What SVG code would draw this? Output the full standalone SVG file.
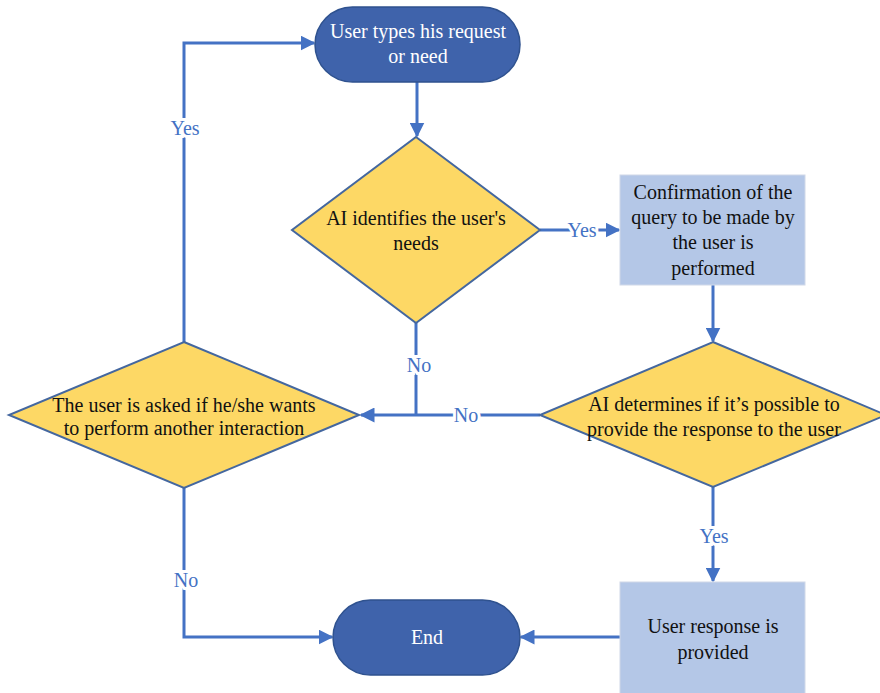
<svg xmlns="http://www.w3.org/2000/svg" width="880" height="693" viewBox="0 0 880 693">
  <style>
    .term { fill: #3f63ab; stroke: #2f528f; stroke-width: 1.5; }
    .dec { fill: #fdd865; stroke: #44679f; stroke-width: 2; }
    .proc { fill: #b4c7e7; stroke: #d0d8e8; stroke-width: 1; }
    .wire { fill: none; stroke: #4472c4; stroke-width: 3; }
  </style>
  <defs>
    <marker id="arrow" viewBox="0 0 10 10" refX="9" refY="5" markerWidth="5" markerHeight="5" orient="auto" markerUnits="strokeWidth">
      <path d="M0,0 L10,5 L0,10 z" fill="#4472c4"/>
    </marker>
  </defs>

  <rect width="880" height="693" fill="#ffffff"/>

  <!-- connectors and their Yes/No labels -->
  <g id="connectors">
    <path class="wire" d="M417,82 V136" marker-end="url(#arrow)"/>
    <path class="wire" d="M540,230 H619" marker-end="url(#arrow)"/>
    <path class="wire" d="M713,285 V341" marker-end="url(#arrow)"/>
    <path class="wire" d="M540,415 H361" marker-end="url(#arrow)"/>
    <path class="wire" d="M416,323 V415"/>
    <path class="wire" d="M184,342 V43 H314" marker-end="url(#arrow)"/>
    <path class="wire" d="M184,488 V637 H332" marker-end="url(#arrow)"/>
    <path class="wire" d="M713,487 V581" marker-end="url(#arrow)"/>
    <path class="wire" d="M620,637 H521" marker-end="url(#arrow)"/>
    <text style="font-family:'Liberation Serif',serif" font-size="20" text-anchor="middle" fill="#4472c4" stroke="#ffffff" stroke-width="6" paint-order="stroke" x="582" y="237">Yes</text>
    <text style="font-family:'Liberation Serif',serif" font-size="20" text-anchor="middle" fill="#4472c4" stroke="#ffffff" stroke-width="6" paint-order="stroke" x="466" y="422">No</text>
    <text style="font-family:'Liberation Serif',serif" font-size="20" text-anchor="middle" fill="#4472c4" stroke="#ffffff" stroke-width="6" paint-order="stroke" x="419" y="372">No</text>
    <text style="font-family:'Liberation Serif',serif" font-size="20" text-anchor="middle" fill="#4472c4" stroke="#ffffff" stroke-width="6" paint-order="stroke" x="185" y="135">Yes</text>
    <text style="font-family:'Liberation Serif',serif" font-size="20" text-anchor="middle" fill="#4472c4" stroke="#ffffff" stroke-width="6" paint-order="stroke" x="186" y="587">No</text>
    <text style="font-family:'Liberation Serif',serif" font-size="20" text-anchor="middle" fill="#4472c4" stroke="#ffffff" stroke-width="6" paint-order="stroke" x="714" y="543">Yes</text>
  </g>

  <g id="start">
    <rect class="term" x="315" y="7" width="205" height="75" rx="37.5"/>
    <text style="font-family:'Liberation Serif',serif" font-size="20" text-anchor="middle" fill="#ffffff" x="418" y="38">User types his request</text>
    <text style="font-family:'Liberation Serif',serif" font-size="20" text-anchor="middle" fill="#ffffff" x="418" y="63">or need</text>
  </g>

  <g id="identify">
    <polygon class="dec" points="416,137 540,230 416,323 292,230"/>
    <text style="font-family:'Liberation Serif',serif" font-size="20" text-anchor="middle" fill="#111111" x="416" y="225">AI identifies the user's</text>
    <text style="font-family:'Liberation Serif',serif" font-size="20" text-anchor="middle" fill="#111111" x="416" y="250">needs</text>
  </g>

  <g id="confirm">
    <rect class="proc" x="620" y="175" width="185" height="110"/>
    <text style="font-family:'Liberation Serif',serif" font-size="20" text-anchor="middle" fill="#111111" x="713" y="199">Confirmation of the</text>
    <text style="font-family:'Liberation Serif',serif" font-size="20" text-anchor="middle" fill="#111111" x="713" y="224">query to be made by</text>
    <text style="font-family:'Liberation Serif',serif" font-size="20" text-anchor="middle" fill="#111111" x="713" y="249">the user is</text>
    <text style="font-family:'Liberation Serif',serif" font-size="20" text-anchor="middle" fill="#111111" x="713" y="275">performed</text>
  </g>

  <g id="possible">
    <polygon class="dec" points="713,342 886,415 713,487 540,415"/>
    <text style="font-family:'Liberation Serif',serif" font-size="20" text-anchor="middle" fill="#111111" x="714" y="411">AI determines if it’s possible to</text>
    <text style="font-family:'Liberation Serif',serif" font-size="20" text-anchor="middle" fill="#111111" x="714" y="436">provide the response to the user</text>
  </g>

  <g id="again">
    <polygon class="dec" points="184,342 359,415 184,488 9,415"/>
    <text style="font-family:'Liberation Serif',serif" font-size="20" text-anchor="middle" fill="#111111" x="184" y="412">The user is asked if he/she wants</text>
    <text style="font-family:'Liberation Serif',serif" font-size="20" text-anchor="middle" fill="#111111" x="184" y="435">to perform another interaction</text>
  </g>

  <g id="response">
    <rect class="proc" x="620" y="582" width="185" height="115"/>
    <text style="font-family:'Liberation Serif',serif" font-size="20" text-anchor="middle" fill="#111111" x="713" y="633">User response is</text>
    <text style="font-family:'Liberation Serif',serif" font-size="20" text-anchor="middle" fill="#111111" x="713" y="659">provided</text>
  </g>

  <g id="end">
    <rect class="term" x="333" y="600" width="187" height="75" rx="37.5"/>
    <text style="font-family:'Liberation Serif',serif" font-size="20" text-anchor="middle" fill="#ffffff" x="427" y="644">End</text>
  </g>
</svg>
